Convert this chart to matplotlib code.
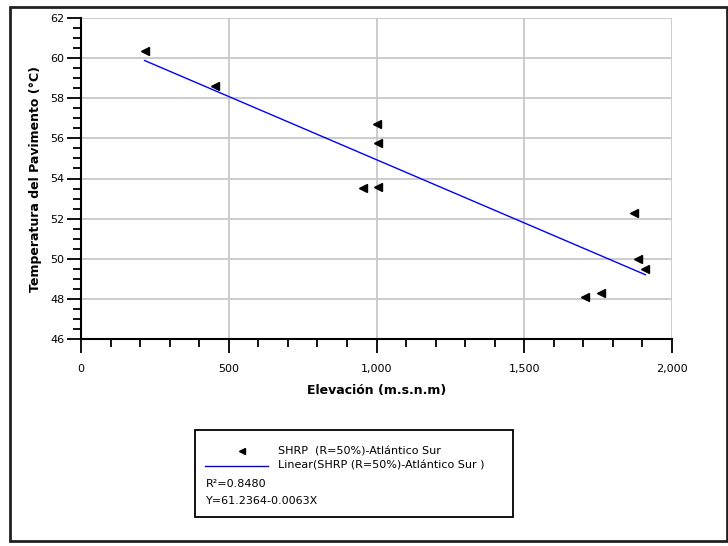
import matplotlib.pyplot as plt
import numpy as np
from matplotlib.lines import Line2D
from matplotlib.patches import Rectangle
from matplotlib.ticker import MultipleLocator, FuncFormatter

# data
elevacion = [215, 455, 1000, 1005, 955, 1005, 1870, 1885, 1910, 1705, 1760]
temperatura = [60.35, 58.6, 56.7, 55.75, 53.55, 53.6, 52.3, 50.0, 49.5, 48.1, 48.3]

# regression shown in the legend
intercepto = 61.2364
pendiente = -0.0063
r2 = 0.8480

serie = 'SHRP  (R=50%)-Atlántico Sur'
serie_lin = 'Linear(SHRP (R=50%)-Atlántico Sur )'

plt.rcParams['font.family'] = ['DejaVu Sans']

fig = plt.figure(figsize=(7.28, 5.46), dpi=100)
ax = fig.add_axes([81/728, 1-339/546, 591/728, 321/546])

ax.plot(elevacion, temperatura, ls='None', marker='<', color='black', ms=6, zorder=3)
xl = np.array([min(elevacion), max(elevacion)])
ax.plot(xl, intercepto + pendiente * xl, color='blue', lw=1, zorder=2)

ax.set_xlim(0, 2000)
ax.set_ylim(46, 62)
ax.xaxis.set_major_locator(MultipleLocator(500))
ax.xaxis.set_minor_locator(MultipleLocator(100))
ax.yaxis.set_major_locator(MultipleLocator(2))
ax.yaxis.set_minor_locator(MultipleLocator(0.5))
ax.xaxis.set_major_formatter(FuncFormatter(lambda v, p: f'{int(v):,}'))

ax.grid(True, which='major', color='#c8c8c8', lw=1.3)
ax.set_axisbelow(True)
for s in ['top', 'right']:
    ax.spines[s].set_visible(False)
for s in ['left', 'bottom']:
    ax.spines[s].set_linewidth(1.5)
ax.tick_params(which='major', length=10, width=1.3, labelsize=8, pad=8)
ax.tick_params(which='minor', length=6, width=1.3)
ax.tick_params(axis='y', which='major', pad=2)

ax.set_xlabel('Elevación (m.s.n.m)', fontsize=9, fontweight='bold', labelpad=7)
ax.set_ylabel('Temperatura del Pavimento (°C)', fontsize=9, fontweight='bold', labelpad=6)

# legend box below the chart
W, H = 728, 546
fig.add_artist(Rectangle((195/W, 1-517/H), 318/W, 87/H, transform=fig.transFigure,
                         fill=False, edgecolor='black', lw=1.3))
fig.add_artist(Line2D([242/W], [1-451/H], transform=fig.transFigure, marker='<',
                      color='black', ms=5, ls='None'))
fig.add_artist(Line2D([205/W, 268/W], [1-466/H, 1-466/H], transform=fig.transFigure,
                      color='blue', lw=1))
fig.text(278/W, 1-451/H, serie, fontsize=8, va='center')
fig.text(278/W, 1-466/H, serie_lin, fontsize=8, va='center')
fig.text(206/W, 1-484/H, f'R²={r2:.4f}', fontsize=8, va='center')
fig.text(206/W, 1-501/H, f'Y={intercepto:.4f}{pendiente:.4f}X', fontsize=8, va='center')

# outer border
fig.add_artist(Rectangle((10/W, 1-541/H), 717/W, 534/H, transform=fig.transFigure,
                         fill=False, edgecolor='#222222', lw=2))

fig.savefig('out.png', dpi=100)
